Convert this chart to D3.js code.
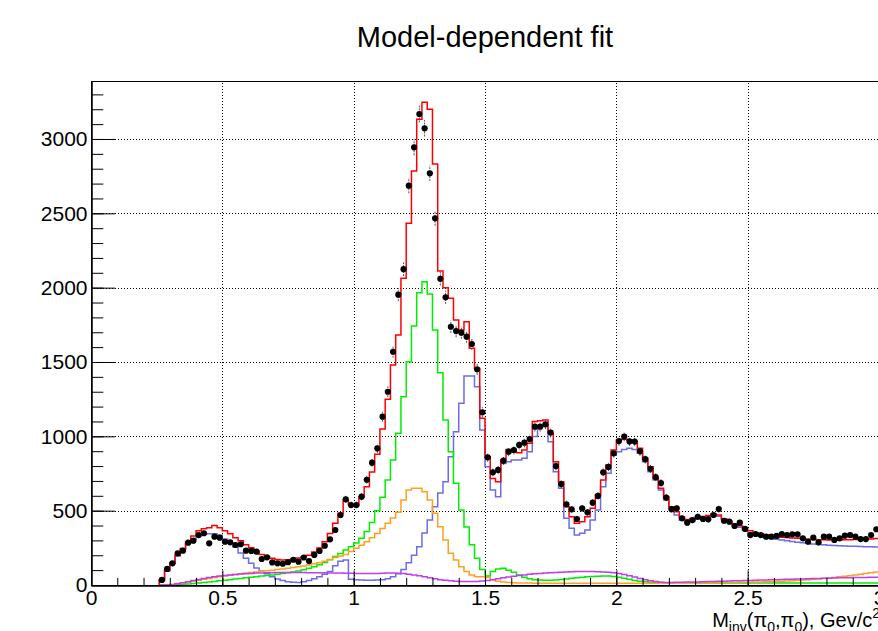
<!DOCTYPE html>
<html>
<head>
<meta charset="utf-8">
<script src="https://cdn.jsdelivr.net/npm/d3@7"></script>
<style>
  body { margin: 0; background: #fff; }
  svg text { font-family: "Liberation Sans", Arial, Helvetica, sans-serif; fill: #000; }
</style>
</head>
<body>
<div id="chart"></div>
<script>
///////////////////////////////////////////////////
// 1.0 data (bins of 0.02 GeV) //
///////////////////////////////////////////////////
var binCenters = [
  0.27,0.29,0.31,0.33,0.35,0.37,0.39,0.41,0.43,0.45,
  0.47,0.49,0.51,0.53,0.55,0.57,0.59,0.61,0.63,0.65,
  0.67,0.69,0.71,0.73,0.75,0.77,0.79,0.81,0.83,0.85,
  0.87,0.89,0.91,0.93,0.95,0.97,0.99,1.01,1.03,1.05,
  1.07,1.09,1.11,1.13,1.15,1.17,1.19,1.21,1.23,1.25,
  1.27,1.29,1.31,1.33,1.35,1.37,1.39,1.41,1.43,1.45,
  1.47,1.49,1.51,1.53,1.55,1.57,1.59,1.61,1.63,1.65,
  1.67,1.69,1.71,1.73,1.75,1.77,1.79,1.81,1.83,1.85,
  1.87,1.89,1.91,1.93,1.95,1.97,1.99,2.01,2.03,2.05,
  2.07,2.09,2.11,2.13,2.15,2.17,2.19,2.21,2.23,2.25,
  2.27,2.29,2.31,2.33,2.35,2.37,2.39,2.41,2.43,2.45,
  2.47,2.49,2.51,2.53,2.55,2.57,2.59,2.61,2.63,2.65,
  2.67,2.69,2.71,2.73,2.75,2.77,2.79,2.81,2.83,2.85,
  2.87,2.89,2.91,2.93,2.95,2.97,2.99
];

// measured counts (black points)
var dataCounts = [
  34,108,146,213,231,285,298,336,348,280,
  325,318,291,287,269,274,231,229,224,175,
  186,152,146,143,153,170,157,185,161,202,
  229,264,307,370,471,576,538,538,594,708,
  823,919,1132,1300,1569,1953,2124,2686,2944,3168,
  3072,2769,2466,2060,1935,1737,1708,1697,1670,1621,
  1451,1162,859,758,774,836,897,908,942,957,
  982,1065,1065,1081,1025,800,679,543,509,444,
  516,489,554,599,758,794,886,968,998,966,
  965,899,846,782,725,686,588,510,516,449,
  419,437,459,444,442,471,511,432,426,397,
  419,377,336,343,336,325,325,330,343,336,
  341,341,314,291,318,287,325,325,303,314,
  332,336,325,309,309,336,375
];

// total fit (red)
var fitTotal = [
  35,100,150,200,245,290,330,365,378,385,
  400,385,365,345,318,298,270,250,228,205,
  192,180,172,168,170,175,182,190,200,222,
  249,291,347,415,482,570,538,535,594,661,
  760,880,1050,1250,1480,1681,2063,2433,2785,3132,
  3247,3200,2832,2112,2000,1928,1782,1715,1771,1592,
  1457,1121,863,717,695,841,912,897,890,908,
  953,1099,1105,1110,1020,829,695,527,459,415,
  426,459,516,605,706,807,908,975,980,975,
  964,919,852,796,717,650,594,527,493,455,
  440,448,455,460,468,478,470,445,430,412,
  398,380,365,352,345,336,330,325,322,320,
  316,314,312,310,308,305,304,303,302,303,
  304,305,306,307,308,310,312
];

// blue component
var fitBlue = [
  30,95,145,195,240,280,310,330,342,345,
  345,335,310,285,255,215,180,146,115,95,
  75,55,40,30,22,18,17,22,30,42,
  56,72,90,130,160,168,38,35,33,32,
  32,33,36,42,55,75,105,150,200,258,
  350,437,527,618,695,863,1031,1222,1406,1406,
  1334,1042,796,639,594,818,829,841,841,852,
  897,998,1065,1076,964,762,650,449,381,336,
  348,370,437,504,661,751,874,897,912,919,
  912,886,829,762,706,639,572,516,471,435,
  422,432,445,455,463,470,462,440,422,405,
  388,368,350,338,328,320,313,308,302,297,
  292,288,284,280,276,273,270,268,266,264,
  262,261,260,259,258,257,256
];

// green component
var fitGreen = [
  0,0,0,2,4,7,10,13,16,20,
  24,28,32,36,40,44,48,52,56,60,
  64,68,72,77,82,88,95,103,112,123,
  136,152,170,192,212,235,258,282,315,360,
  420,500,590,706,841,1020,1266,1502,1742,1966,
  2040,1957,1715,1428,1110,897,684,504,390,270,
  180,105,60,90,108,112,100,85,68,52,
  42,36,33,32,32,34,37,41,45,49,
  52,55,57,59,60,60,58,52,45,38,
  31,26,22,19,17,16,15,15,15,15,
  15,15,14,14,14,14,14,14,14,14,
  14,14,14,14,14,14,14,14,14,14,
  14,14,14,14,14,14,14,14,14,14,
  14,14,14,14,14,14,14
];

// orange component
var fitOrange = [
  0,2,5,10,15,20,26,32,38,44,
  50,56,61,66,71,76,80,84,88,92,
  96,100,104,108,112,117,122,128,135,143,
  150,160,172,185,195,205,225,247,268,291,
  318,347,380,415,450,490,572,639,650,650,
  628,572,482,392,303,213,168,123,90,67,
  56,56,50,35,25,20,17,15,14,13,
  13,12,12,12,12,12,12,12,12,12,
  12,12,12,12,12,12,12,12,12,12,
  12,12,12,12,12,13,13,13,13,13,
  14,14,14,15,15,15,16,16,17,17,
  18,18,19,20,21,22,23,24,25,27,
  29,31,33,35,38,41,44,47,51,55,
  59,63,67,72,77,82,87
];

// magenta component
var fitMagenta = [
  0,0,2,8,15,22,30,37,43,50,
  55,60,64,68,71,74,76,78,80,81,
  82,83,84,84,84,84,84,84,83,83,
  82,82,81,80,80,79,79,78,78,78,
  78,78,79,80,80,79,77,73,68,62,
  55,48,42,36,32,28,26,24,23,23,
  24,27,31,36,42,48,54,59,64,68,
  72,75,78,80,82,84,86,88,89,90,
  90,90,90,89,88,86,82,77,70,62,
  53,44,36,29,23,19,17,17,18,19,
  20,21,21,22,23,24,25,26,27,28,
  29,30,31,32,33,34,35,36,37,38,
  39,40,41,42,43,44,45,46,47,48,
  49,49,50,51,51,52,52
];

var xMajorTicks = [0, 0.5, 1, 1.5, 2, 2.5, 3];
var yMajorTicks = [0, 500, 1000, 1500, 2000, 2500, 3000];
var titleText = "Model-dependent fit";

///////////////////////////////////////////////////
// 2.0 layout                                    //
///////////////////////////////////////////////////
var W = 878, H = 631;
var frame = {left: 91, right: 879, top: 81, bottom: 585};
var yTop = 3390;

var x = d3.scaleLinear().domain([0, 3]).range([frame.left, frame.right]);
var y = d3.scaleLinear().domain([0, yTop]).range([frame.bottom, frame.top]);

var binW = binCenters[1] - binCenters[0];

var svg = d3.select('#chart').append('svg')
  .attr('width', W)
  .attr('height', H);

// grid (dotted, major ticks only)
var grid = svg.append('g').attr('class', 'grid')
  .attr('stroke', '#000').attr('stroke-width', 1)
  .attr('stroke-dasharray', '1,2');
grid.selectAll('.gx').data(xMajorTicks.slice(1)).enter().append('line')
  .attr('x1', function(d) { return Math.round(x(d)) + 0.5; })
  .attr('x2', function(d) { return Math.round(x(d)) + 0.5; })
  .attr('y1', frame.bottom).attr('y2', frame.top);
grid.selectAll('.gy').data(yMajorTicks.slice(1)).enter().append('line')
  .attr('x1', frame.left).attr('x2', frame.right)
  .attr('y1', function(d) { return Math.round(y(d)) + 0.5; })
  .attr('y2', function(d) { return Math.round(y(d)) + 0.5; });

// step histogram path
function stepPath(values) {
  var p = d3.path();
  p.moveTo(x(binCenters[0] - binW / 2), y(0));
  values.forEach(function(v, i) {
    p.lineTo(x(binCenters[i] - binW / 2), y(v));
    p.lineTo(x(binCenters[i] + binW / 2), y(v));
  });
  return p.toString();
}

var series = [
  {key: 'blue', values: fitBlue, color: '#6b6bec'},
  {key: 'green', values: fitGreen, color: '#00ee00'},
  {key: 'orange', values: fitOrange, color: '#ff9f1c'},
  {key: 'magenta', values: fitMagenta, color: '#c23cf2'},
  {key: 'total', values: fitTotal, color: '#ff0000'}
];

svg.append('g').attr('class', 'hists').selectAll('path')
  .data(series).enter().append('path')
  .attr('d', function(d) { return stepPath(d.values); })
  .attr('fill', 'none')
  .attr('stroke', function(d) { return d.color; })
  .attr('stroke-width', 1.5);

// data points with sqrt(N) errors
var pts = svg.append('g').attr('class', 'points');
pts.selectAll('line').data(dataCounts).enter().append('line')
  .attr('x1', function(d, i) { return x(binCenters[i]); })
  .attr('x2', function(d, i) { return x(binCenters[i]); })
  .attr('y1', function(d) { return y(d - Math.sqrt(d)); })
  .attr('y2', function(d) { return y(d + Math.sqrt(d)); })
  .attr('stroke', '#555').attr('stroke-width', 1)
  .attr('stroke-dasharray', '2,1');
pts.selectAll('circle').data(dataCounts).enter().append('circle')
  .attr('cx', function(d, i) { return x(binCenters[i]); })
  .attr('cy', function(d) { return y(d); })
  .attr('r', 3.1)
  .attr('fill', '#000');

///////////////////////////////////////////////////
// 3.0 frame and axes (ROOT style, inward ticks) //
///////////////////////////////////////////////////
svg.append('rect')
  .attr('x', frame.left + 0.5).attr('y', frame.top + 0.5)
  .attr('width', frame.right - frame.left).attr('height', frame.bottom - frame.top)
  .attr('fill', 'none').attr('stroke', '#000').attr('stroke-width', 1);

var xMinor = d3.range(0, 31).map(function(i) { return i / 10; });
var yMinor = d3.range(0, 34).map(function(i) { return i * 100; });

var xAxisG = svg.append('g').attr('class', 'axis axis--x')
  .attr('transform', 'translate(0,' + (frame.bottom + 0.5) + ')');
xAxisG.append('g').call(d3.axisBottom(x).tickValues(xMinor).tickSize(-7.6).tickSizeOuter(0).tickFormat(''));
xAxisG.append('g').call(d3.axisBottom(x).tickValues(xMajorTicks).tickSize(-15.1).tickSizeOuter(0)
  .tickPadding(5).tickFormat(function(d) { return String(d); }));

var yAxisG = svg.append('g').attr('class', 'axis axis--y')
  .attr('transform', 'translate(' + (frame.left + 0.5) + ',0)');
yAxisG.append('g').call(d3.axisLeft(y).tickValues(yMinor).tickSize(-11.8).tickSizeOuter(0).tickFormat(''));
yAxisG.append('g').call(d3.axisLeft(y).tickValues(yMajorTicks).tickSize(-23.6).tickSizeOuter(0)
  .tickPadding(4).tickFormat(function(d) { return String(d); }));

svg.selectAll('.axis text').style('font-size', '21px').attr('fill', '#000');
svg.selectAll('.axis line').attr('stroke', '#000').attr('stroke-width', 1);
svg.selectAll('.axis path.domain').attr('stroke', '#000');

// title
svg.append('text')
  .attr('x', 485).attr('y', 47)
  .attr('text-anchor', 'middle')
  .style('font-size', '29px')
  .text(titleText);

// x axis title with sub/superscripts (the reference cuts it at the edge)
var xt = svg.append('text')
  .attr('x', 880).attr('y', 627)
  .attr('text-anchor', 'end')
  .style('font-size', '20px');
xt.append('tspan').text('M');
xt.append('tspan').attr('dy', 5).style('font-size', '14px').text('inv');
xt.append('tspan').attr('dy', -5).text('(\u03c0');
xt.append('tspan').attr('dy', 5).style('font-size', '14px').text('0');
xt.append('tspan').attr('dy', -5).text(',\u03c0');
xt.append('tspan').attr('dy', 5).style('font-size', '14px').text('0');
xt.append('tspan').attr('dy', -5).text('), Gev/c');
xt.append('tspan').attr('dy', -9).style('font-size', '14px').text('2');
</script>
</body>
</html>
